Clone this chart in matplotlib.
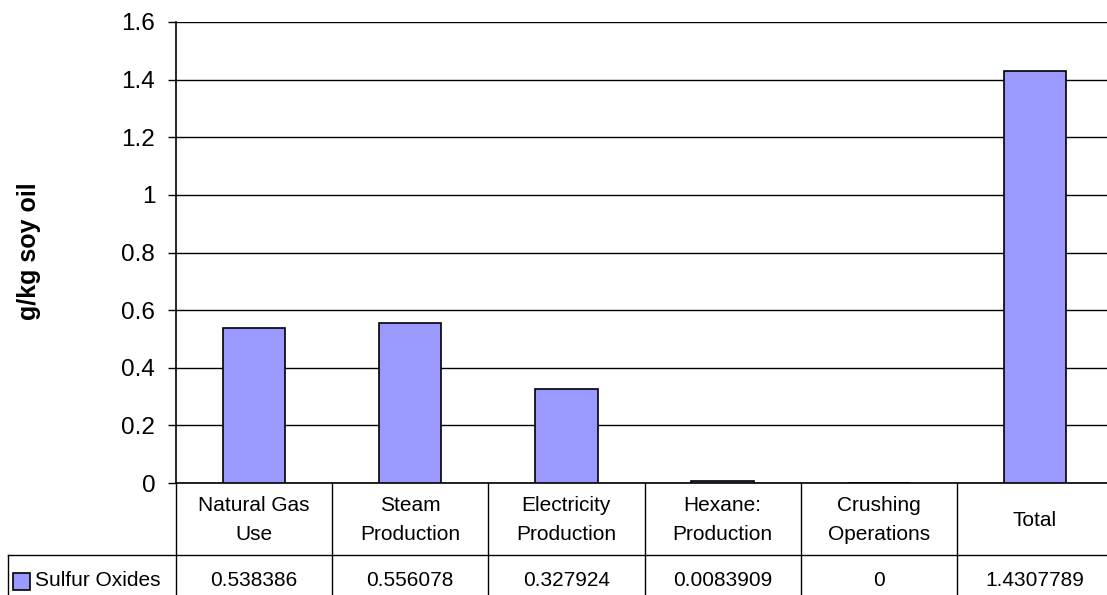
import matplotlib.pyplot as plt
from matplotlib.transforms import blended_transform_factory
from matplotlib.patches import Rectangle

categories = ["Natural Gas\nUse", "Steam\nProduction", "Electricity\nProduction",
              "Hexane:\nProduction", "Crushing\nOperations", "Total"]
values = [0.538386, 0.556078, 0.327924, 0.0083909, 0, 1.4307789]
value_labels = ["0.538386", "0.556078", "0.327924", "0.0083909", "0", "1.4307789"]
series_name = "Sulfur Oxides"
yticks = [0, 0.2, 0.4, 0.6, 0.8, 1, 1.2, 1.4, 1.6]

plt.rcParams['font.family'] = ['Liberation Sans', 'DejaVu Sans']
W, H = 1107, 595
fig = plt.figure(figsize=(W / 100, H / 100), dpi=100)

x0, x1 = 176, 1113   # plot left/right in px (right runs past the edge)
ytop, yzero = 22, 483
ax = fig.add_axes([x0 / W, (H - yzero) / H, (x1 - x0) / W, (yzero - ytop) / H])

bar_color = "#9999FF"
xs = list(range(len(values)))
ax.bar(xs, values, width=0.4, color=bar_color, edgecolor="black", linewidth=1.2, zorder=3)

ax.set_xlim(-0.5, len(values) - 0.5)
ax.set_ylim(0, 1.6)
ax.set_yticks(yticks)
ax.set_yticklabels([f"{t:g}" for t in yticks], fontsize=17.5)
ax.set_xticks([])
ax.yaxis.grid(True, color="black", linewidth=1)
ax.set_axisbelow(True)
for s in ["top", "right"]:
    ax.spines[s].set_visible(False)
ax.spines["left"].set_linewidth(1.2)
ax.spines["bottom"].set_linewidth(1.2)
ax.tick_params(axis="y", length=6, width=1, direction="out", pad=9)

fig.text(29 / W, (H - 251) / H, "g/kg soy oil", rotation=90, fontsize=18,
         fontweight="bold", ha="center", va="center")

# data table under the plot
tr = blended_transform_factory(ax.transData, fig.transFigure)
fy = lambda py: (H - py) / H
row_split = 555
for i in range(len(values) + 1):
    ax.plot([i - 0.5, i - 0.5], [fy(yzero), fy(H + 10)], color="black", lw=1,
            transform=tr, clip_on=False)
fig.add_artist(plt.Line2D([8 / W, 1.01], [fy(row_split), fy(row_split)], color="black", lw=1))
fig.add_artist(plt.Line2D([8 / W, 8 / W], [fy(row_split), 0], color="black", lw=1))

for i, (c, v) in enumerate(zip(categories, value_labels)):
    ax.text(i, fy(520), c, transform=tr, ha="center", va="center", fontsize=15,
            linespacing=1.65)
    ax.text(i, fy(580), v, transform=tr, ha="center", va="center", fontsize=15)

fig.add_artist(Rectangle((13 / W, fy(590)), 17 / W, 17 / H, facecolor=bar_color,
                         edgecolor="black", lw=1.2, transform=fig.transFigure))
fig.text(35 / W, fy(580), series_name, fontsize=15, ha="left", va="center")

fig.savefig("out.png", dpi=100)
